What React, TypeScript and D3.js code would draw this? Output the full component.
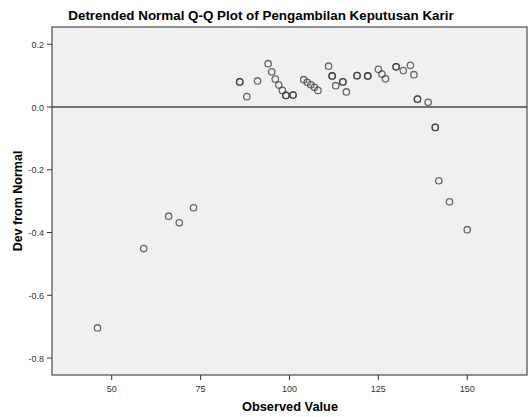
import React from "react";
import * as d3 from "d3";

const observed = [46, 59, 66, 69, 73, 86, 88, 91, 94, 95, 96, 97, 98, 99, 101, 104, 105, 106, 107, 108, 111, 112, 113, 115, 116, 119, 122, 125, 126, 127, 130, 132, 134, 135, 136, 139, 141, 142, 145, 150];
const devFromNormal = [-0.704, -0.451, -0.348, -0.369, -0.321, 0.080, 0.033, 0.083, 0.138, 0.112, 0.089, 0.070, 0.053, 0.037, 0.038, 0.087, 0.079, 0.071, 0.063, 0.053, 0.130, 0.099, 0.068, 0.080, 0.048, 0.100, 0.099, 0.120, 0.105, 0.090, 0.128, 0.116, 0.133, 0.103, 0.025, 0.015, -0.065, -0.235, -0.302, -0.391];
const frequency = [1, 1, 1, 1, 1, 2, 1, 1, 1, 1, 1, 1, 1, 2, 2, 1, 1, 1, 1, 1, 1, 2, 1, 2, 1, 2, 2, 1, 1, 1, 2, 1, 1, 1, 2, 1, 2, 1, 1, 1];
const xTicks = [50, 75, 100, 125, 150];
const yTicks = [0.2, 0.0, -0.2, -0.4, -0.6, -0.8];

const W = 531;
const H = 417;
const plot = { left: 52, right: 527, top: 27, bottom: 375 };

export default function App() {
  const x = d3.scaleLinear().domain([33.2, 166.8]).range([plot.left, plot.right]);
  const y = d3.scaleLinear().domain([-0.854, 0.255]).range([plot.bottom, plot.top]);
  const fmt = d3.format(".1f");
  const font = "'Liberation Sans', Arial, sans-serif";

  return (
    <svg width={W} height={H} style={{ position: "fixed", left: 0, top: 0, background: "#fff" }} fontFamily={font}>
      <text x={261} y={20} textAnchor="middle" fontSize={13.4} fontWeight="bold" fill="#000">
        Detrended Normal Q-Q Plot of Pengambilan Keputusan Karir
      </text>
      <rect x={plot.left} y={plot.top} width={plot.right - plot.left} height={plot.bottom - plot.top} fill="#f0f0f0" stroke="#4a4a4a" strokeWidth={1.2} />
      <line x1={plot.left} x2={plot.right} y1={y(0)} y2={y(0)} stroke="#4a4a4a" strokeWidth={1.4} />
      {yTicks.map((t) => (
        <g key={"y" + t}>
          <line x1={plot.left - 5} x2={plot.left} y1={y(t)} y2={y(t)} stroke="#333" strokeWidth={1} />
          <text x={plot.left - 8} y={y(t) + 3.5} textAnchor="end" fontSize={9} fill="#333">
            {fmt(t).replace("\u2212", "-")}
          </text>
        </g>
      ))}
      {xTicks.map((t) => (
        <g key={"x" + t}>
          <line x1={x(t)} x2={x(t)} y1={plot.bottom} y2={plot.bottom + 5} stroke="#333" strokeWidth={1} />
          <text x={x(t)} y={plot.bottom + 17} textAnchor="middle" fontSize={9} fill="#333">
            {t}
          </text>
        </g>
      ))}
      <text x={290} y={411} textAnchor="middle" fontSize={12.8} fontWeight="bold" fill="#000">
        Observed Value
      </text>
      <text transform={`translate(22,${(plot.top + plot.bottom) / 2}) rotate(-90)`} textAnchor="middle" fontSize={12.5} fontWeight="bold" fill="#000">
        Dev from Normal
      </text>
      {observed.map((v, i) =>
        d3.range(frequency[i]).map((k) => (
          <circle key={i + "-" + k} cx={x(v)} cy={y(devFromNormal[i])} r={3.2} fill="none" stroke="#333" strokeOpacity={0.72} strokeWidth={1.3} />
        ))
      )}
    </svg>
  );
}
